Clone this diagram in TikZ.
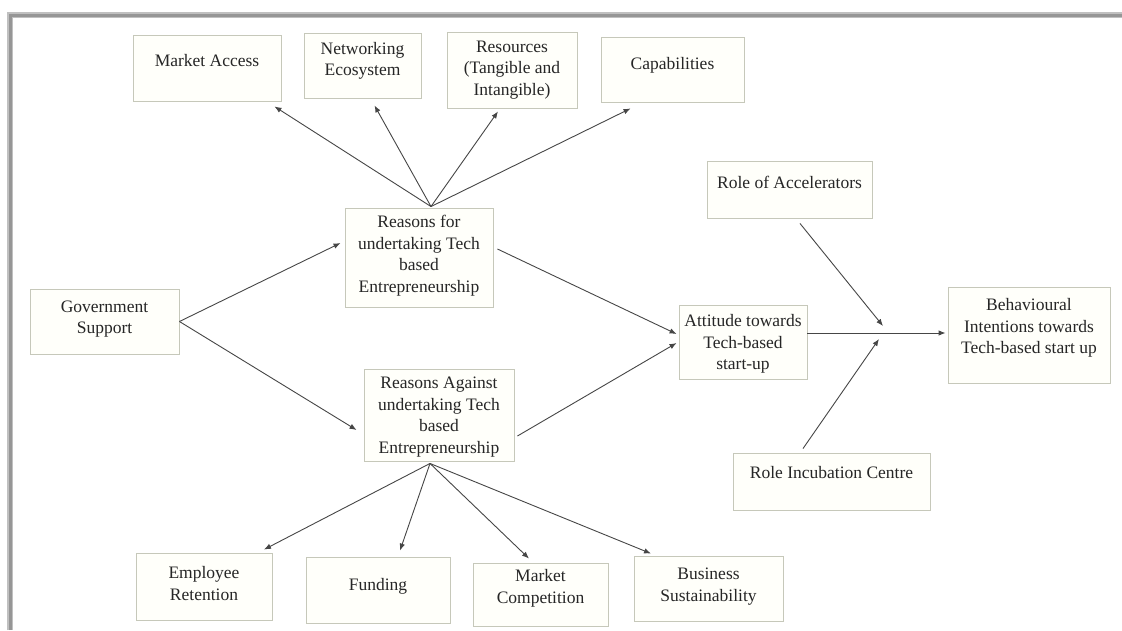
\documentclass[tikz,border=0pt]{standalone}
\usepackage{fontspec}
\setmainfont{Liberation Serif}
\usetikzlibrary{arrows.meta}
\definecolor{boxline}{RGB}{198,200,186}
\definecolor{boxfill}{RGB}{255,255,250}
\definecolor{txt}{RGB}{38,38,38}
\definecolor{arrc}{RGB}{70,70,70}
\definecolor{frame}{RGB}{150,150,150}
\tikzset{
  box/.style={draw=boxline, fill=boxfill, line width=0.9pt, inner sep=0pt, align=center,
    text=txt, font={\fontsize{17.5}{21.5}\selectfont}, text depth=4pt},
  arr/.style={draw=arrc, line width=0.9pt, -{Latex[length=7pt,width=5.5pt]}}
}
\begin{document}
\begin{tikzpicture}[x=1pt,y=-1pt]
\useasboundingbox (0,0) rectangle (1122,630);
\fill[white] (0,0) rectangle (1122,630);
% frame
\draw[frame!60, line width=6pt] (10,630) -- (10,15) -- (1122,15);
\draw[frame, line width=3pt] (10,630) -- (10,15) -- (1122,15);

% top row
\node[box, minimum width=148pt, minimum height=66pt, text depth=16pt] (ma) at (207,68) {Market Access};
\node[box, minimum width=117pt, minimum height=65pt, text depth=13pt] (ne) at (362.5,65.5) {Networking\\Ecosystem};
\node[box, minimum width=130pt, minimum height=76pt] (rs) at (512,70) {Resources\\(Tangible and\\Intangible)};
\node[box, minimum width=143pt, minimum height=65pt, text depth=13pt] (cap) at (672.5,69.5) {Capabilities};

% middle
\node[box, minimum width=148pt, minimum height=99pt, text depth=7pt] (rf) at (419,257.5) {Reasons for\\undertaking Tech\\based\\Entrepreneurship};
\node[box, minimum width=149pt, minimum height=65pt, text depth=9pt] (gov) at (104.5,321.5) {Government\\Support};
\node[box, minimum width=150pt, minimum height=92pt, text depth=0pt] (ra) at (439,415) {Reasons Against\\undertaking Tech\\based\\Entrepreneurship};
\node[box, minimum width=128pt, minimum height=74pt, text depth=0pt] (att) at (743,342) {Attitude towards\\Tech-based\\start-up};
\node[box, minimum width=165pt, minimum height=57pt, text depth=14pt] (acc) at (789.5,189.5) {Role of Accelerators};
\node[box, minimum width=162pt, minimum height=96pt, text depth=18pt] (beh) at (1029,335) {Behavioural\\Intentions towards\\Tech-based start up};
\node[box, minimum width=197pt, minimum height=57pt, text depth=18pt] (inc) at (831.5,481.5) {Role Incubation Centre};

% bottom row
\node[box, minimum width=136pt, minimum height=67pt, text depth=6pt] (emp) at (204,586.5) {Employee\\Retention};
\node[box, minimum width=144pt, minimum height=66pt, text depth=12pt] (fund) at (378,590) {Funding};
\node[box, minimum width=135pt, minimum height=63pt, text depth=16pt] (mc) at (540.5,594.5) {Market\\Competition};
\node[box, minimum width=149pt, minimum height=65pt, text depth=8pt] (bs) at (708.5,588.5) {Business\\Sustainability};

% hubs and junctions
\coordinate (h1) at ([shift={(12,-1)}]rf.north);
\coordinate (h2) at ([shift={(-9,2)}]ra.south);
\coordinate (j1) at (883,326);
\coordinate (j2) at (879,339);

% arrows from top hub
\draw[arr] (h1) -- ([shift={(-7,5)}]ma.south east);
\draw[arr] (h1) -- ([shift={(12,7)}]ne.south);
\draw[arr] (h1) -- ([shift={(-14,3)}]rs.south);
\draw[arr] (h1) -- ([shift={(30,6)}]cap.south west);

% government
\draw[arr] (gov.east) -- ([shift={(-4,-14.5)}]rf.west);
\draw[arr] (gov.east) -- ([shift={(-7,15)}]ra.west);

% to attitude
\draw[arr] ([shift={(4,-8.5)}]rf.east) -- ([shift={(-2,-8)}]att.west);
\draw[arr] ([shift={(3,21)}]ra.east) -- ([shift={(-2,1)}]att.west);

% to behavioural
\draw[arr] ([shift={(0,-9)}]att.east) -- ([shift={(-2,-2)}]beh.west);
\draw[arr] ([shift={(10.5,5)}]acc.south) -- (j1);
\draw[arr] ([shift={(-28.5,-4)}]inc.north) -- (j2);

% bottom hub
\draw[arr] (h2) -- ([shift={(60,-3)}]emp.north);
\draw[arr] (h2) -- ([shift={(22,-6)}]fund.north);
\draw[arr] (h2) -- ([shift={(-11.5,-4)}]mc.north);
\draw[arr] (h2) -- ([shift={(-57.5,-2)}]bs.north);
\end{tikzpicture}
\end{document}
